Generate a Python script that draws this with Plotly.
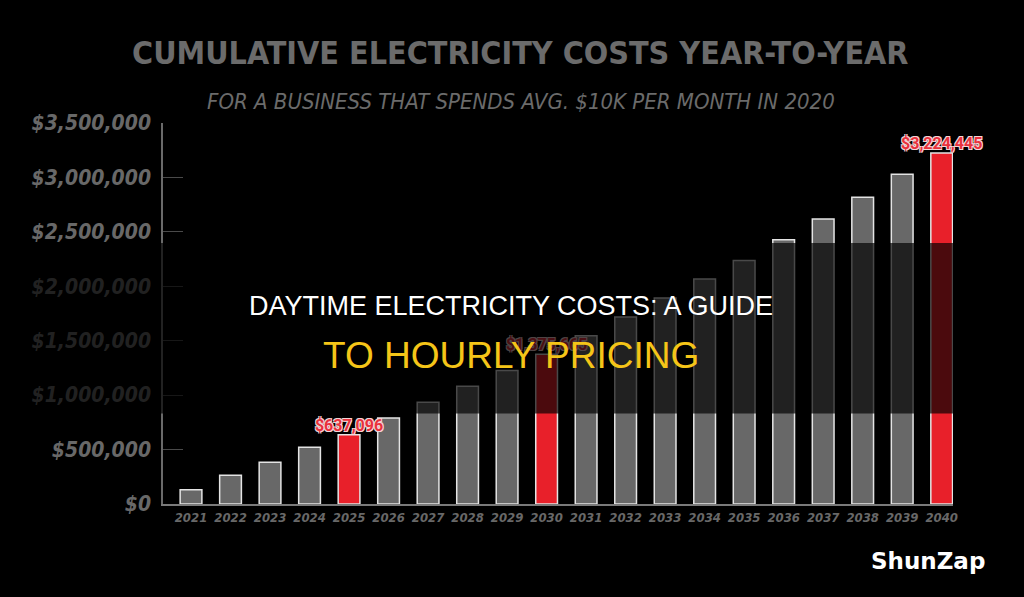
import plotly.graph_objects as go

years = [str(y) for y in range(2021, 2041)]
costs = [130000, 264000, 383000, 521000, 637096, 791000, 934000, 1081000, 1227000, 1375665,
         1546000, 1717000, 1892000, 2066000, 2237000, 2427000, 2619000, 2819000, 3029000, 3224445]
highlight_years = ["2025", "2030", "2040"]
y_ticks = [0, 500000, 1000000, 1500000, 2000000, 2500000, 3000000, 3500000]

title_text = "CUMULATIVE ELECTRICITY COSTS YEAR-TO-YEAR"
subtitle_text = "FOR A BUSINESS THAT SPENDS AVG. $10K PER MONTH IN 2020"
overlay_line1 = "DAYTIME ELECTRICITY COSTS: A GUIDE"
overlay_line2 = "TO HOURLY PRICING"
watermark = "ShunZap"

GRAY = "#686868"
RED = "#e8202a"
COND = "DejaVu Sans Condensed, Liberation Sans Narrow, Roboto, sans-serif"

colors = [RED if y in highlight_years else GRAY for y in years]
hl_x = [y for y in years if y in highlight_years]
hl_y = [v for y, v in zip(years, costs) if y in highlight_years]
hl_text = [f"${v:,.0f}" for v in hl_y]

# pixel -> paper helpers (plot area: x 163..953, y 123..504)
L, R, T, B = 163, 953, 123, 504
def px(x):
    return (x - L) / (R - L)
def py(y):
    return (B - y) / (B - T)

fig = go.Figure()
fig.add_trace(go.Bar(
    x=years, y=costs,
    marker=dict(color=colors, line=dict(color="#e4e4e4", width=1.5)),
    hoverinfo="skip",
))
fig.add_trace(go.Scatter(
    x=hl_x, y=hl_y, mode="text", text=hl_text, textposition="top center",
    cliponaxis=False, hoverinfo="skip",
    textfont=dict(family="Roboto, sans-serif", size=16, color="#e8303c", weight="bold",
                  shadow="1px 1px 0 #f4d4d6, -1px -1px 0 #f4d4d6, 1px -1px 0 #f4d4d6, -1px 1px 0 #f4d4d6"),
))

fig.update_layout(
    width=1024, height=597,
    paper_bgcolor="#000000", plot_bgcolor="#000000",
    margin=dict(l=L, r=1024 - R, t=T, b=597 - B),
    bargap=0.45,
    showlegend=False,
    xaxis=dict(
        type="category", range=[-0.709, 19.286],
        showline=True, linecolor="#7a7a7a", linewidth=2,
        showgrid=False, ticks="",
        tickfont=dict(family=COND, size=13, color=GRAY, weight="bold", style="italic"),
    ),
    yaxis=dict(
        range=[0, 3500000], tickvals=y_ticks, tickformat="$,.0f",
        showline=True, linecolor="#6a6a6a", linewidth=1.5,
        showgrid=False, zeroline=False,
        ticks="inside", ticklen=20, tickcolor="#4a4a4a", tickwidth=1,
        ticklabelstandoff=6,
        tickfont=dict(family=COND, size=21, color=GRAY, weight="bold", style="italic"),
    ),
    shapes=[dict(
        type="rect", xref="paper", yref="paper",
        x0=px(0), x1=px(1024), y0=py(413.5), y1=py(243),
        fillcolor="rgba(0,0,0,0.68)", line=dict(width=0), layer="above",
    )],
    annotations=[
        dict(text=title_text, xref="paper", yref="paper", x=px(520), y=py(53),
             showarrow=False, xanchor="center", yanchor="middle",
             font=dict(family=COND, size=32, color="#6b6b6b", weight="bold")),
        dict(text=subtitle_text, xref="paper", yref="paper", x=px(521), y=py(101),
             showarrow=False, xanchor="center", yanchor="middle",
             font=dict(family=COND, size=22, color="#6b6b6b", style="italic")),
        dict(text=overlay_line1, xref="paper", yref="paper", x=px(511), y=py(306),
             showarrow=False, xanchor="center", yanchor="middle",
             font=dict(family="Liberation Sans, Arial, sans-serif", size=27, color="#ffffff")),
        dict(text=overlay_line2, xref="paper", yref="paper", x=px(511), y=py(355),
             showarrow=False, xanchor="center", yanchor="middle",
             font=dict(family="Liberation Sans, Arial, sans-serif", size=37, color="#f5c518")),
        dict(text=watermark, xref="paper", yref="paper", x=px(928), y=py(561),
             showarrow=False, xanchor="center", yanchor="middle",
             font=dict(family="DejaVu Sans, sans-serif", size=23, color="#ffffff", weight="bold")),
    ],
)

fig.write_html("out.html")
